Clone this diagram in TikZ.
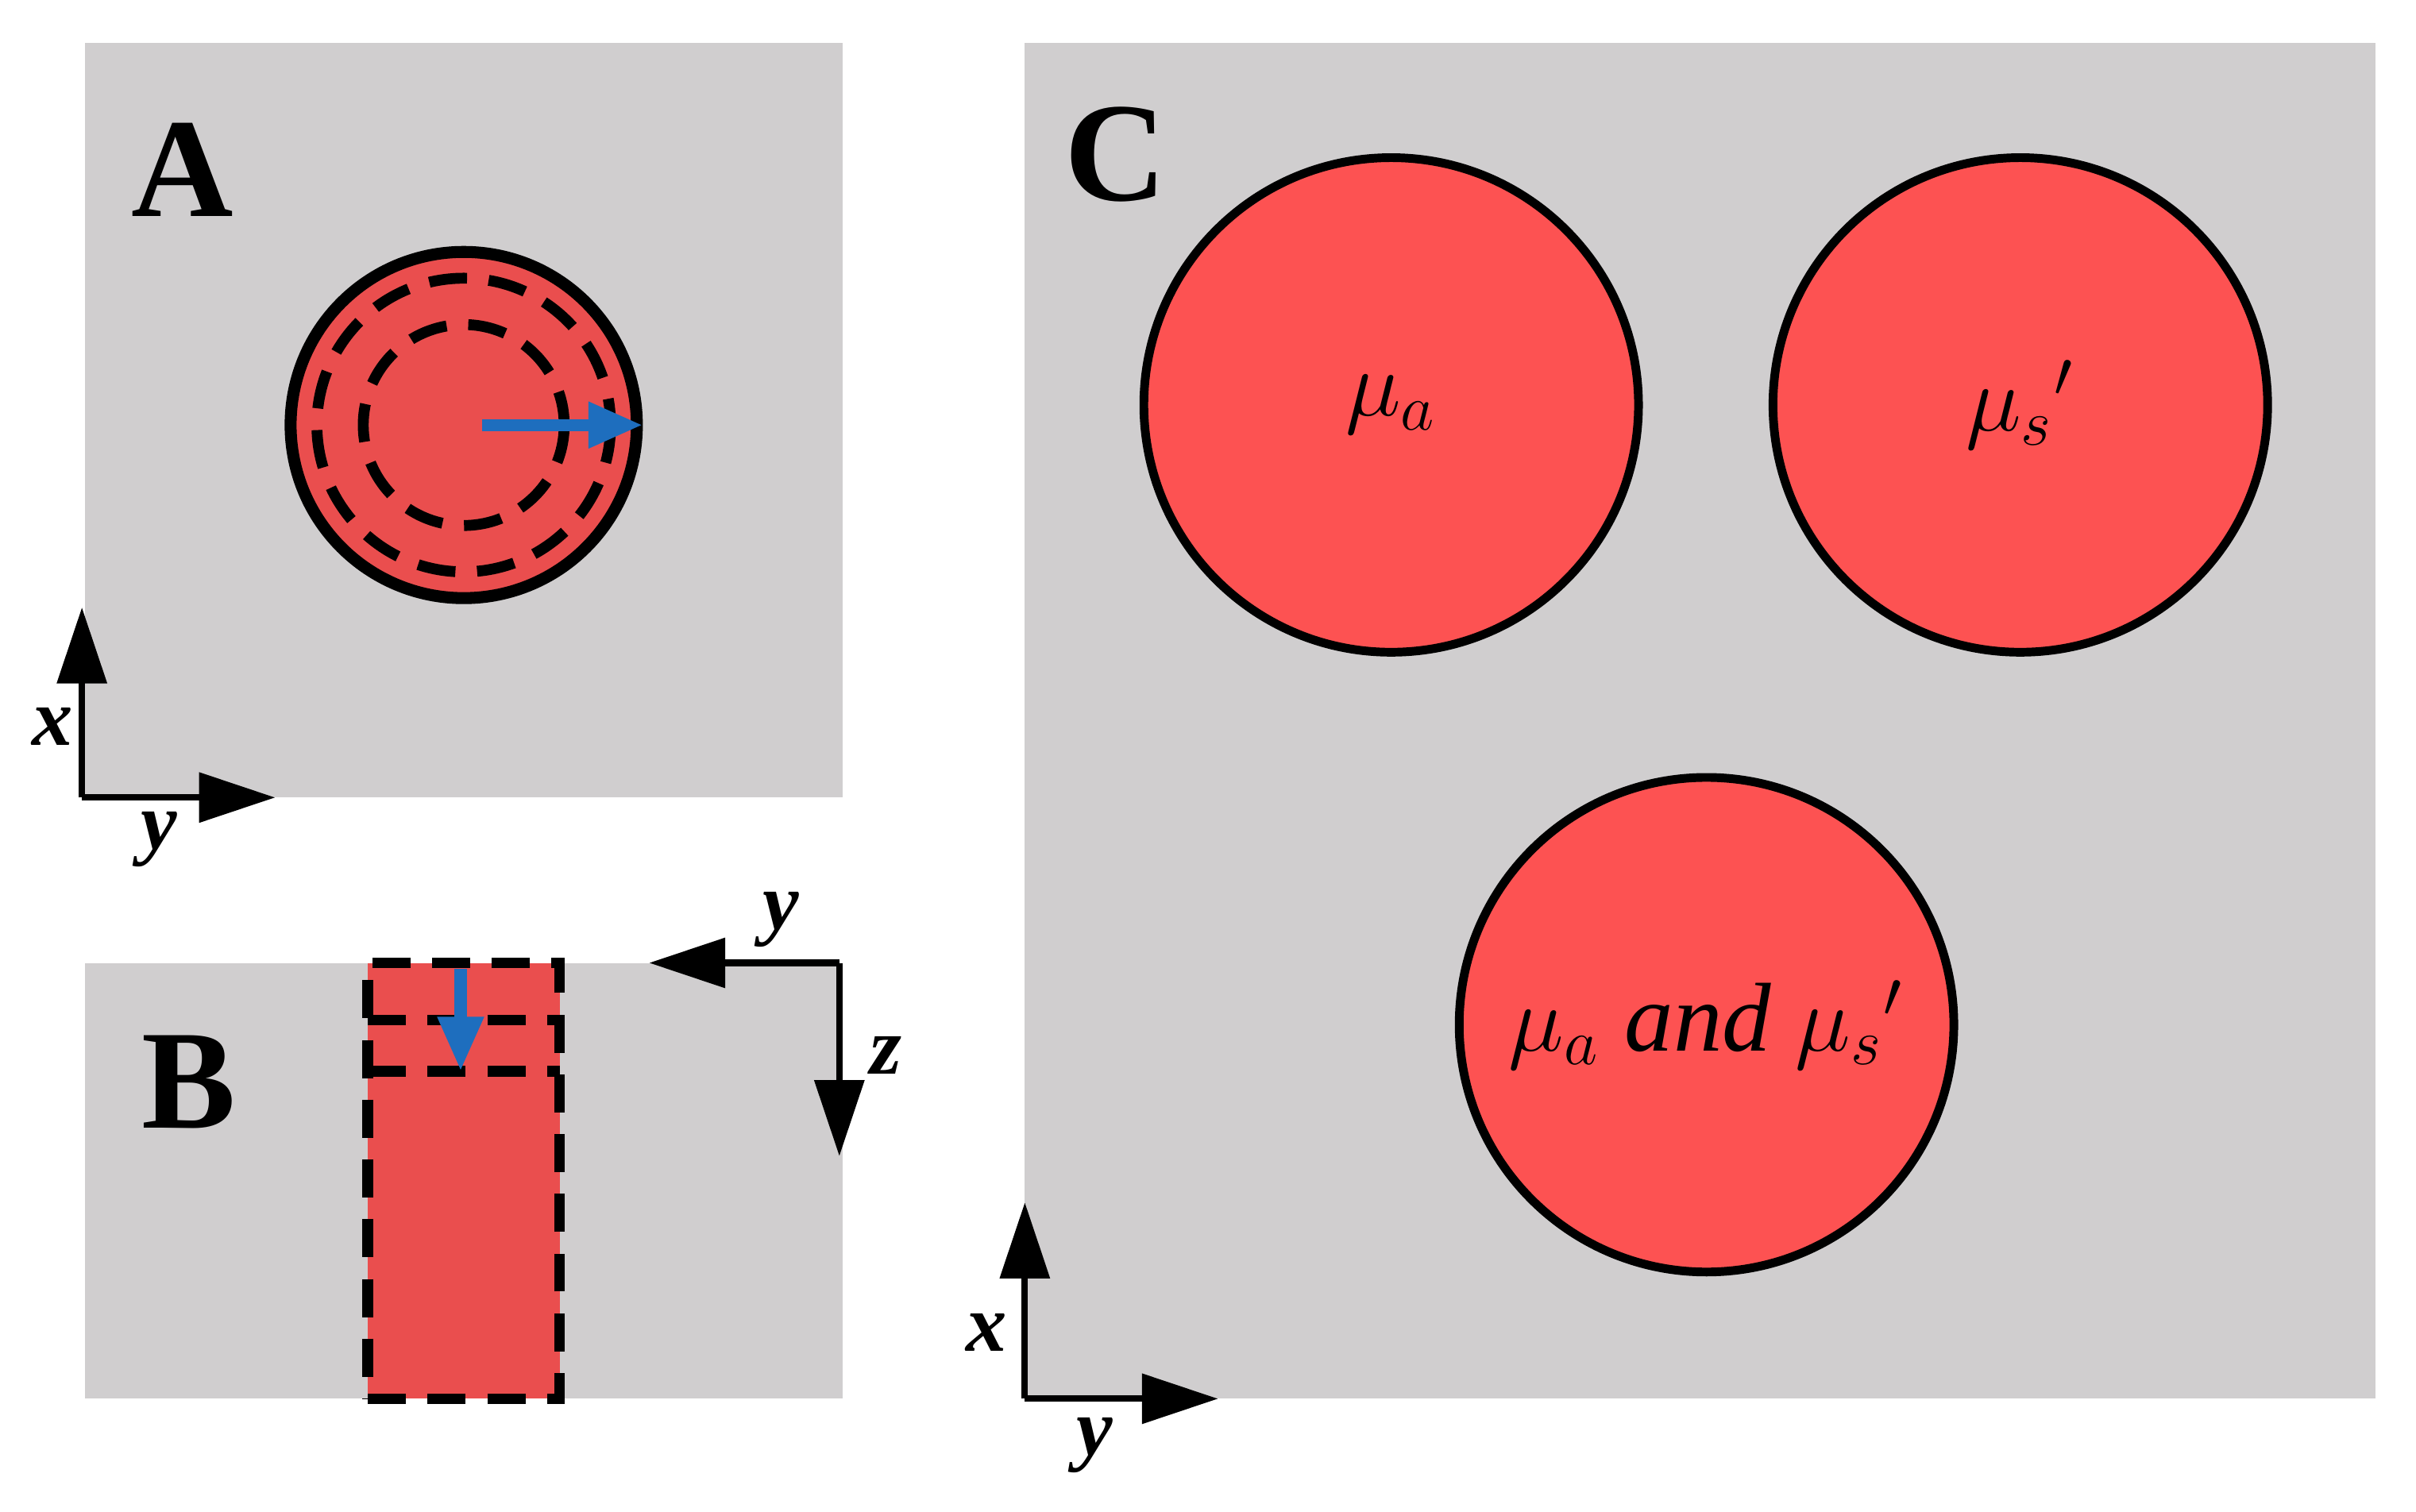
\documentclass[tikz,border=0pt]{standalone}
\usepackage{fontspec}
\setmainfont{Liberation Serif}
\usetikzlibrary{arrows.meta}
\definecolor{bg}{RGB}{208,206,207}
\definecolor{redA}{RGB}{234,78,78}
\definecolor{redC}{RGB}{253,82,82}
\definecolor{blu}{RGB}{30,110,190}
\begin{document}
\begin{tikzpicture}[x=0.1mm,y=-0.1mm,
  ax/.style={-{Triangle[length=14pt,width=9pt]},line width=1.2pt},
  bl/.style={-{Triangle[length=10pt,width=8pt]},line width=2.2pt,blu},
  dsh/.style={dashed,dash pattern=on 7pt off 4pt,line width=2pt},
  lab/.style={font=\fontsize{26}{28}\selectfont\bfseries},
  axl/.style={font=\fontsize{15}{17}\selectfont\bfseries\itshape},
  mu/.style={font=\fontsize{18}{20}\selectfont\itshape}]
\useasboundingbox (0,0) rectangle (1563,978);
% Panel A
\fill[bg] (55,28) rectangle (545,516);
\node[circle,draw,line width=2.2pt,fill=redA,minimum size=224*0.1mm,inner sep=0] (ca) at (300,275) {};
\draw[dsh] (300,275) circle (95);
\draw[dsh] (300,275) circle (65);
\coordinate (ba) at (312,275);
\draw[bl] (ba) -- (ca.east);
\node[lab] (la) at (118,110) {A};
\coordinate (oa) at (53,516);
\coordinate (oax) at (53,393);
\coordinate (oay) at (178,516);
\draw[ax] (oa) -- (oax);
\draw[ax] (oa) -- (oay);
\node[axl] (xa) at (34,470) {x};
\node[axl] (ya) at (103,543) {y};
% Panel B
\fill[bg] (55,623) rectangle (545,905);
\node[draw,dsh,fill=redA,minimum width=124*0.1mm,minimum height=282*0.1mm,inner sep=0] (rb) at (300,764) {};
\draw[dsh] (238,660) -- (362,660);
\draw[dsh] (238,693) -- (362,693);
\coordinate (bb1) at (298,627);
\coordinate (bb2) at (298,693);
\draw[bl] (bb1) -- (bb2);
\node[lab] (lb) at (122,700) {B};
\coordinate (ob) at (543,623);
\coordinate (obl) at (420,623);
\coordinate (obd) at (543,748);
\draw[ax] (ob) -- (obl);
\draw[ax] (ob) -- (obd);
\node[axl] (yb) at (505,595) {y};
\node[axl] (zb) at (573,683) {z};
% Panel C
\fill[bg] (663,28) rectangle (1537,905);
\node[lab] (lc) at (722,100) {C};
\tikzset{cc/.style={circle,draw,line width=1.6pt,fill=redC,minimum size=320*0.1mm,inner sep=0}}
\node[cc] (c1) at (900,262) {};
\node[cc] (c2) at (1307,262) {};
\node[cc] (c3) at (1104,663) {};
\node[mu] at (c1) {$\mu_a$};
\node[mu] at (c2) {$\mu_s{}'$};
\node[mu] at (c3) {$\mu_a$ and $\mu_s{}'$};
\coordinate (oc) at (663,905);
\coordinate (ocx) at (663,778);
\coordinate (ocy) at (788,905);
\draw[ax] (oc) -- (ocx);
\draw[ax] (oc) -- (ocy);
\node[axl] (xc) at (638,862) {x};
\node[axl] (yc) at (708,935) {y};
\end{tikzpicture}
\end{document}
